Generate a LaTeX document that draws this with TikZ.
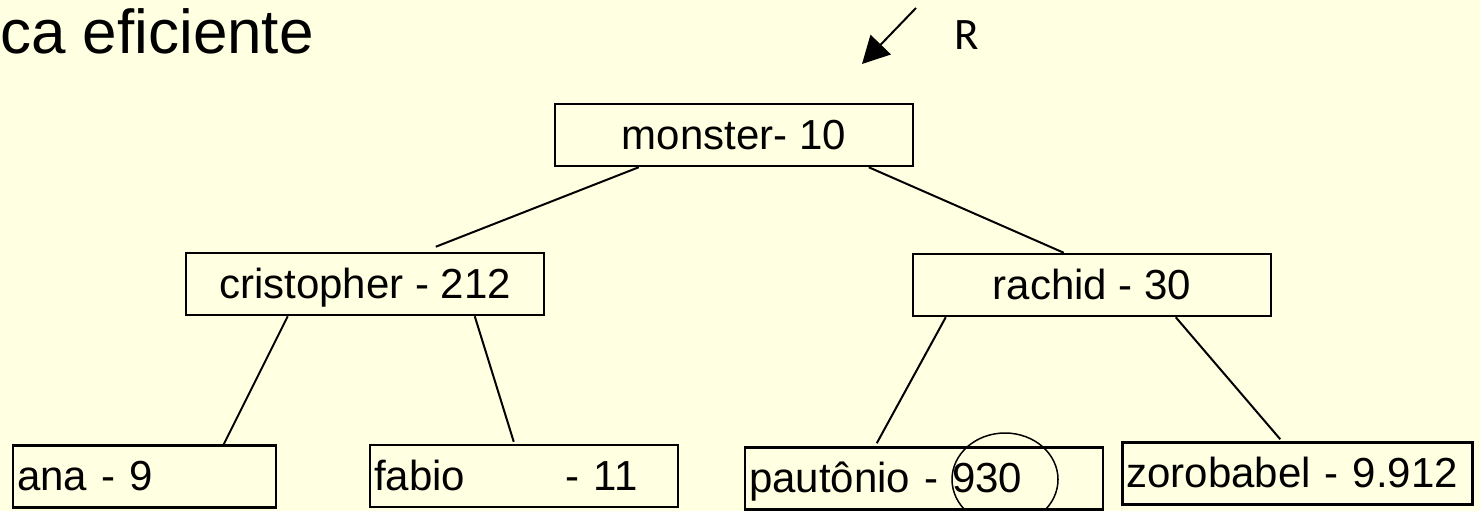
\documentclass[tikz,border=0pt]{standalone}
\usepackage{fontspec}
\setmainfont{Liberation Sans}
\newfontfamily\calib{Carlito}
\usetikzlibrary{arrows.meta,shapes.geometric}
\definecolor{bgyellow}{RGB}{255,255,225}
\begin{document}
\begin{tikzpicture}[x=1pt,y=-1pt,
  box/.style={draw, line width=2.5pt, inner sep=0pt, minimum height=62pt,
    font=\fontsize{42}{50}\selectfont, text height=28pt, text depth=0pt},
  cbox/.style={box, align=center},
  lbox/.style={box, inner xsep=4pt, align=left},
  edge/.style={line width=2pt}]
\fill[bgyellow] (0,0) rectangle (1480,511);
\useasboundingbox (0,0) rectangle (1480,511);

\node[font=\fontsize{62}{70}\selectfont, anchor=base east, inner sep=0pt] (title) at (314,53) {ca eficiente};

\node[cbox, minimum width=358pt] (mon) at (734,135) {monster- 10};
\node[cbox, minimum width=358pt] (cris) at (365,284) {cristopher - 212};
\node[cbox, minimum width=358pt] (rach) at (1092,285) {rachid - 30};
\node[lbox, minimum width=263pt, text width=255pt] (ana) at (144.5,476.5) {ana - 9};
\node[lbox, minimum width=308pt, text width=300pt] (fab) at (524,476) {\makebox[192pt][l]{fabio}- 11};
\node[lbox, minimum width=358pt, text width=350pt] (paut) at (924,478.5) {pautônio - 930};
\node[lbox, minimum width=350pt, text width=342pt] (zoro) at (1297.5,473.5) {zorobabel - 9.912};

\node[draw, ellipse, line width=1.5pt, minimum width=106pt, minimum height=93pt, inner sep=0pt] (circ) at (1005,479.5) {};

\draw[edge] ([xshift=85pt]mon.south west) -- ([xshift=251pt,yshift=5pt]cris.north west);
\draw[edge] ([xshift=315pt]mon.south west) -- ([xshift=152pt]rach.north west);
\draw[edge] ([xshift=103pt]cris.south west) -- ([xshift=212pt]ana.north west);
\draw[edge] ([xshift=290pt]cris.south west) -- ([xshift=145pt,yshift=2pt]fab.north west);
\draw[edge] ([xshift=34pt]rach.south west) -- ([xshift=133pt,yshift=3pt]paut.north west);
\draw[edge] ([xshift=264pt]rach.south west) -- ([xshift=159pt,yshift=2pt]zoro.north west);

\coordinate (rtail) at (916,8);
\coordinate (rtip) at (862,64);
\draw[line width=2pt, -{Triangle[length=27pt,width=28pt]}] (rtail) -- (rtip);
\node[font=\calib\fontsize{45}{54}\selectfont, inner sep=0pt] (rlab) at (967,35) {R};
\end{tikzpicture}
\end{document}
